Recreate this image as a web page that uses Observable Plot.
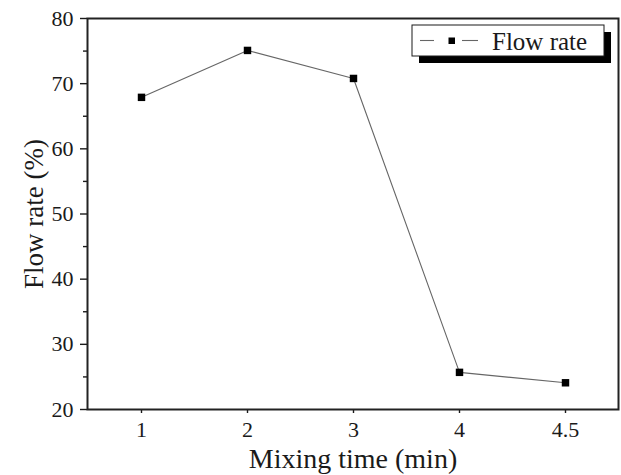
<!DOCTYPE html>
<html>
<head>
<meta charset="utf-8">
<script src="https://cdn.jsdelivr.net/npm/d3@7"></script>
<script src="https://cdn.jsdelivr.net/npm/@observablehq/plot@0.6"></script>
<style>
  html, body { margin: 0; padding: 0; background: #fff; }
  #chart { position: relative; width: 621px; height: 475px; }
</style>
</head>
<body>
<div id="chart"></div>
<script>
// Data
const mixingTimes = ["1", "2", "3", "4", "4.5"];
const flowRates = [67.9, 75.1, 70.8, 25.7, 24.1];
const yTicks = [20, 30, 40, 50, 60, 70, 80];
const yMinorTicks = [25, 35, 45, 55, 65, 75];
const xLabel = "Mixing time (min)";
const yLabel = "Flow rate (%)";
const seriesName = "Flow rate";

const data = mixingTimes.map((t, i) => ({time: t, rate: flowRates[i]}));

const font = "'Liberation Serif', 'Times New Roman', serif";
const ink = "#1a1a1a";

const plot = Plot.plot({
  width: 621,
  height: 475,
  marginLeft: 87,
  marginRight: 3,
  marginTop: 18,
  marginBottom: 66,
  style: {fontFamily: font, color: ink, background: "#fff"},
  x: {type: "point", domain: mixingTimes, padding: 0.5},
  y: {domain: [20, 80]},
  marks: [
    Plot.axisY({ticks: yMinorTicks, tickSize: 4, text: null, label: null, stroke: ink, strokeWidth: 1.4}),
    Plot.axisY({ticks: yTicks, tickSize: 7, tickPadding: 7, label: null, fontSize: 22, stroke: ink, strokeWidth: 1.4, fill: ink}),
    Plot.axisX({tickSize: 4, tickPadding: 8, label: null, fontSize: 22, stroke: ink, strokeWidth: 1.4, fill: ink}),
    Plot.line(data, {x: "time", y: "rate", stroke: "#666", strokeWidth: 1.1}),
    Plot.dot(data, {x: "time", y: "rate", symbol: "square", r: 4.2, fill: "#000", stroke: "none"}),
    Plot.frame({stroke: "#222", strokeWidth: 2}),
    Plot.text([xLabel], {text: d => d, frameAnchor: "bottom", textAnchor: "middle", lineAnchor: "middle", dy: 50, fontSize: 28, fill: ink}),
    Plot.text([yLabel], {text: d => d, frameAnchor: "left", textAnchor: "middle", lineAnchor: "middle", rotate: -90, dx: -53, fontSize: 27, fill: ink})
  ]
});

document.getElementById("chart").appendChild(plot);

// Legend inside the frame (top-right), with drop shadow
const svg = d3.select(plot);
const lg = svg.append("g").attr("transform", "translate(412,25)");
lg.append("rect").attr("x", 7).attr("y", 7).attr("width", 192).attr("height", 31).attr("fill", "#000");
lg.append("rect").attr("x", 0).attr("y", 0).attr("width", 192).attr("height", 31)
  .attr("fill", "#fff").attr("stroke", ink).attr("stroke-width", 1);
lg.append("line").attr("x1", 8).attr("x2", 22).attr("y1", 15.5).attr("y2", 15.5).attr("stroke", "#666").attr("stroke-width", 1.1);
lg.append("line").attr("x1", 50).attr("x2", 66).attr("y1", 15.5).attr("y2", 15.5).attr("stroke", "#666").attr("stroke-width", 1.1);
lg.append("rect").attr("x", 36.5).attr("y", 12.5).attr("width", 6.5).attr("height", 6.5).attr("fill", "#000");
lg.append("text").attr("x", 80).attr("y", 25).attr("text-anchor", "start")
  .style("font-family", font).style("font-size", "25px")
  .attr("fill", ink).text(seriesName);
</script>
</body>
</html>
